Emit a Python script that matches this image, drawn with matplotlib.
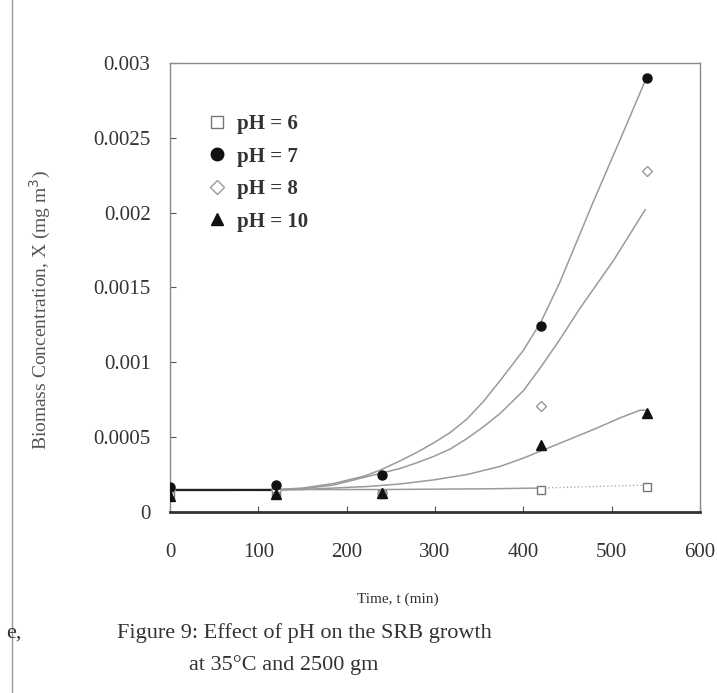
import matplotlib
matplotlib.use("Agg")
import matplotlib.pyplot as plt
from matplotlib.lines import Line2D

plt.rcParams['font.family'] = ['Liberation Serif', 'DejaVu Serif']

# measured points (time in min, biomass concentration)
t = [0, 120, 240, 420, 540]
ph6 = [0.00012, 0.00013, 0.00012, 0.00015, 0.00017]
ph7 = [0.00017, 0.00018, 0.00025, 0.00124, 0.0029]
ph8 = [0.00015, 0.00015, 0.00013, 0.00071, 0.00228]
ph10 = [0.00011, 0.00012, 0.00013, 0.00045, 0.00066]

# trend lines
fit7_t = [0, 60, 120, 150, 185, 220, 238, 260, 280, 298, 317, 336, 355, 374, 400, 420,
          441, 460, 479, 498, 517, 540]
fit7_y = [0.000145, 0.000145, 0.00015, 0.00016, 0.00019, 0.00024, 0.00028, 0.00034,
          0.0004, 0.00046, 0.00053, 0.00062, 0.00074, 0.00088, 0.00108, 0.00127,
          0.00153, 0.0018, 0.00207, 0.00233, 0.00259, 0.00291]
fit8_t = [0, 60, 120, 150, 185, 223, 260, 280, 298, 317, 336, 355, 374, 400, 420, 441,
          464, 483, 502, 520, 538]
fit8_y = [0.000145, 0.000145, 0.000148, 0.000155, 0.00018, 0.000236, 0.00029, 0.00033,
          0.00037, 0.00042, 0.00049, 0.00057, 0.00066, 0.00081, 0.00097, 0.00115,
          0.00136, 0.00152, 0.00168, 0.00185, 0.00202]
fit10_t = [0, 60, 120, 150, 185, 223, 260, 298, 336, 374, 400, 418, 450, 483, 510, 532, 540]
fit10_y = [0.000145, 0.000145, 0.000146, 0.00015, 0.00016, 0.00017, 0.000187, 0.000214,
           0.00025, 0.000305, 0.00036, 0.000403, 0.00048, 0.00056, 0.00063, 0.00068, 0.00068]
fit6_t = [0, 120, 240, 360, 420, 480, 540]
fit6_y = [0.00015, 0.00015, 0.00015, 0.000155, 0.00016, 0.00017, 0.00018]

x_ticks = [0, 100, 200, 300, 400, 500, 600]
y_ticks = [0, 0.0005, 0.001, 0.0015, 0.002, 0.0025, 0.003]
y_ticklabels = ['0', '0.0005', '0.001', '0.0015', '0.002', '0.0025', '0.003']

fig = plt.figure(figsize=(7.17, 6.93), dpi=100)
ax = fig.add_axes([0.2371, 0.2612, 0.7392, 0.6479])

# trend lines
linea = dict(color='#9a9a9a', lw=1.1, zorder=2)
ax.plot(fit7_t, fit7_y, **linea)
ax.plot(fit8_t, fit8_y, **linea)
ax.plot(fit10_t, fit10_y, **linea)
ax.plot(fit6_t[:5], fit6_y[:5], **linea)
ax.plot(fit6_t[4:], fit6_y[4:], color='#b0b0b0', lw=1.0, ls=':', zorder=2)
# dark overlap near the start where all fits coincide
ax.plot(fit6_t[:2], [0.000148, 0.000148], color='#222222', lw=1.6, zorder=2)

# markers
ax.plot(t, ph6, ls='none', marker='s', ms=6, mfc='white', mec='#777777', mew=1, zorder=3)
ax.plot(t, ph7, ls='none', marker='o', ms=6.5, mfc='#111111', mec='#111111', zorder=4)
ax.plot(t, ph8, ls='none', marker='D', ms=5.5, mfc='white', mec='#9a9a9a', mew=1, zorder=3)
ax.plot(t, ph10, ls='none', marker='^', ms=7, mfc='#111111', mec='#111111', zorder=4)

ax.set_xlim(0, 600)
ax.set_ylim(0, 0.003)
ax.set_xticks(x_ticks)
ax.set_yticks(y_ticks)
ax.set_yticklabels(y_ticklabels)
ax.tick_params(direction='in', length=4, width=0.8, colors='#555555',
               labelcolor='#333333', labelsize=15)
ax.tick_params(axis='x', pad=22)
ax.tick_params(axis='y', pad=14)

for lado in ['top', 'right', 'left']:
    ax.spines[lado].set_color('#8a8a8a')
    ax.spines[lado].set_linewidth(1.0)
ax.spines['bottom'].set_color('#333333')
ax.spines['bottom'].set_linewidth(2.0)

ax.set_xlabel('Time, t (min)', fontsize=11, color='#333333')
ax.xaxis.set_label_coords(0.43, -0.18)
ax.set_ylabel('Biomass Concentration, X (mg m$^{3}$)', fontsize=14, color='#555555')
ax.yaxis.set_label_coords(-0.22, 0.45)

# legend
elementos = [
    Line2D([0], [0], ls='none', marker='s', ms=9, mfc='white', mec='#777777', label='pH = 6'),
    Line2D([0], [0], ls='none', marker='o', ms=9, mfc='#111111', mec='#111111', label='pH = 7'),
    Line2D([0], [0], ls='none', marker='D', ms=7, mfc='white', mec='#9a9a9a', label='pH = 8'),
    Line2D([0], [0], ls='none', marker='^', ms=9, mfc='#111111', mec='#111111', label='pH = 10'),
]
ley = ax.legend(handles=elementos, loc='upper left', bbox_to_anchor=(0.025, 0.928),
                frameon=False, handletextpad=0.3, labelspacing=0.6, handlelength=1.4,
                prop={'weight': 'bold', 'size': 15})
for txt in ley.get_texts():
    txt.set_color('#333333')

# caption
fig.text(0.424, 0.087, 'Figure 9: Effect of pH on the SRB growth', fontsize=16,
         ha='center', va='center', color='#333333')
fig.text(0.395, 0.040, 'at 35°C and 2500 gm', fontsize=16, ha='center', va='center',
         color='#333333')
fig.text(0.008, 0.087, 'e,', fontsize=16, ha='left', va='center', color='#333333')

# scan border
fig.add_artist(Line2D([0.017, 0.017], [0, 1], color='#999999', lw=1.0,
                      transform=fig.transFigure))

fig.savefig('out.png', dpi=100)
